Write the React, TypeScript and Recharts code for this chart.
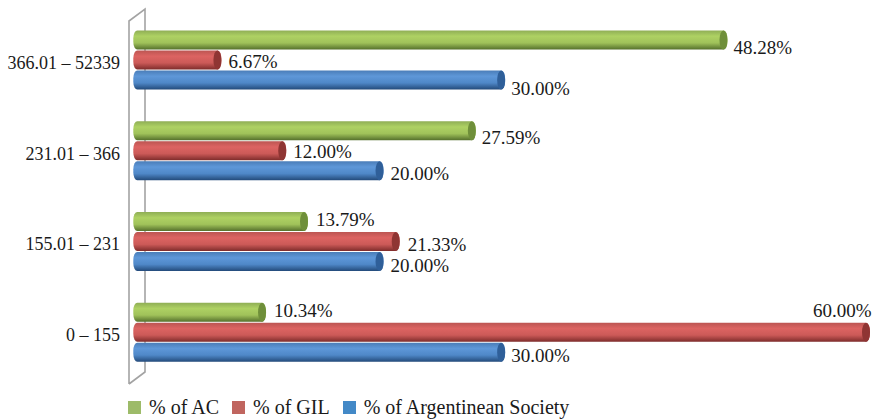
import React from 'react';
import { BarChart, Bar, XAxis, YAxis, Legend, LabelList, usePlotArea } from 'recharts';

const categories = ['366.01 – 52339', '231.01 – 366', '155.01 – 231', '0 – 155'];
const acValues = [48.28, 27.59, 13.79, 10.34];
const gilValues = [6.67, 12.0, 21.33, 60.0];
const societyValues = [30.0, 20.0, 20.0, 30.0];

const data = categories.map((range, i) => ({
  range,
  ac: acValues[i],
  gil: gilValues[i],
  society: societyValues[i],
}));

// label nudges, the original labels don't sit exactly on the bar centre
const acNudge = [[6, 7], [6, 7], [8, -2], [8, -2]];
const gilNudge = [[7, 1], [7, 1], [8, 3], [-57, -22]];
const societyNudge = [[6, 8], [7, 3], [7, 4], [6, 3]];

const FONT = '"Liberation Serif", serif';

const legendItems = [
  { name: '% of AC', color: '#9dbb69' },
  { name: '% of GIL', color: '#c0655f' },
  { name: '% of Argentinean Society', color: '#4389c7' },
];

// the cylinders start a little left of zero, like the 3d original
const BASE_OVERHANG = 7;

const Cylinder = (props: any) => {
  const { x, y, width, height, gradient, cap } = props;
  const rx = 4;
  const inset = 0.5;
  return (
    <g>
      <rect
        x={x - BASE_OVERHANG}
        y={y + inset}
        width={width + BASE_OVERHANG}
        height={height - inset * 2}
        rx={rx}
        ry={height / 2 - 2}
        fill={`url(#${gradient})`}
      />
      <ellipse cx={x + width - rx} cy={y + height / 2} rx={rx} ry={height / 2 - inset} fill={cap} />
    </g>
  );
};

const makeLabel = (nudge: number[][]) => (props: any) => {
  const { x, y, width, height, value, index } = props;
  const [dx, dy] = nudge[index];
  return (
    <text
      x={x + width + dx}
      y={y + height / 2 + dy}
      dominantBaseline="central"
      fontFamily={FONT}
      fontSize={19}
      fill="#1a1a1a"
    >
      {`${value.toFixed(2)}%`}
    </text>
  );
};

const Wall = () => {
  const plot = usePlotArea();
  if (!plot) return null;
  const depth = 16;
  const left = plot.x - 4;
  const top = plot.y + 6;
  const bottom = plot.y + plot.height + 6;
  return (
    <path
      d={`M${left} ${bottom} V${top} L${left + depth} ${top - 12} V${bottom - 12} L${left} ${bottom}`}
      fill="#fff"
      stroke="#a3a3a3"
      strokeWidth={1.6}
    />
  );
};

const LegendRow = () => (
  <div style={{ display: 'flex', fontFamily: FONT, fontSize: 20, color: '#1a1a1a', height: 24, alignItems: 'center' }}>
    {legendItems.map((item) => (
      <span key={item.name} style={{ display: 'flex', alignItems: 'center', marginRight: 13 }}>
        <span style={{ width: 13, height: 13, background: item.color, marginRight: 8 }} />
        {item.name}
      </span>
    ))}
  </div>
);

const Stops = ({ id, top, light, mid, dark }: any) => (
  <linearGradient id={id} x1="0" y1="0" x2="0" y2="1">
    <stop offset="0%" stopColor={top} />
    <stop offset="30%" stopColor={light} />
    <stop offset="65%" stopColor={mid} />
    <stop offset="100%" stopColor={dark} />
  </linearGradient>
);

export default function App() {
  return (
    <div style={{ position: 'absolute', left: 0, top: 0, width: 879, height: 419, background: '#fff' }}>
      <BarChart
        width={879}
        height={419}
        data={data}
        layout="vertical"
        barCategoryGap={15}
        barGap={0}
        margin={{ top: 15, right: 9, bottom: 17, left: 0 }}
      >
        <defs>
          <Stops id="gradAc" top="#8fae55" light="#aed163" mid="#a0c25a" dark="#55702c" />
          <Stops id="gradGil" top="#bc5552" light="#dc6462" mid="#cc5a58" dark="#7e2c2b" />
          <Stops id="gradSociety" top="#4a7db8" light="#5e97d8" mid="#4f88c8" dark="#234a7a" />
        </defs>
        <Wall />
        <XAxis type="number" domain={[-0.6, 60]} allowDataOverflow hide />
        <YAxis
          type="category"
          dataKey="range"
          width={133}
          axisLine={false}
          tickLine={false}
          tickSize={0}
          tickMargin={13}
          interval={0}
          tick={{ fontFamily: FONT, fontSize: 18, fill: '#1a1a1a', dy: 2 }}
        />
        <Legend
          verticalAlign="bottom"
          content={<LegendRow />}
          wrapperStyle={{ position: 'absolute', left: 128, top: 395, width: 'auto', bottom: 'auto' }}
        />
        <Bar dataKey="ac" isAnimationActive={false} shape={<Cylinder gradient="gradAc" cap="#6f8f3a" />}>
          <LabelList dataKey="ac" content={makeLabel(acNudge)} />
        </Bar>
        <Bar dataKey="gil" isAnimationActive={false} shape={<Cylinder gradient="gradGil" cap="#8f3533" />}>
          <LabelList dataKey="gil" content={makeLabel(gilNudge)} />
        </Bar>
        <Bar dataKey="society" isAnimationActive={false} shape={<Cylinder gradient="gradSociety" cap="#2f5f99" />}>
          <LabelList dataKey="society" content={makeLabel(societyNudge)} />
        </Bar>
      </BarChart>
    </div>
  );
}
